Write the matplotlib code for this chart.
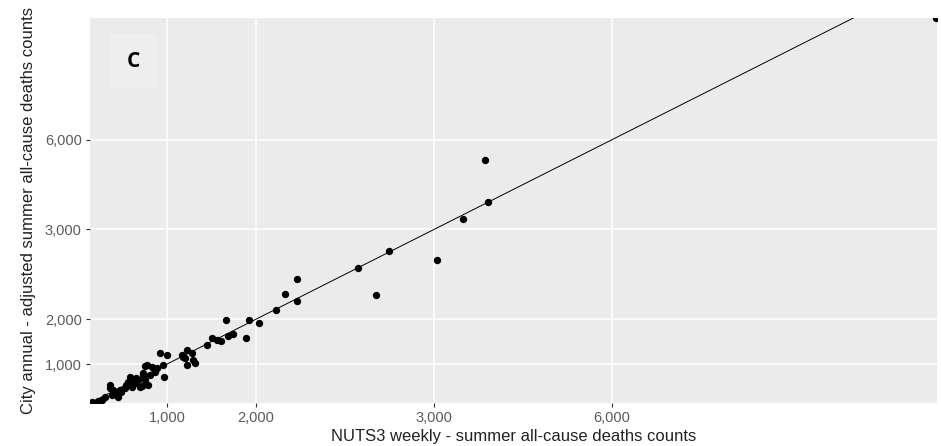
import numpy as np
import matplotlib
matplotlib.use('Agg')
import matplotlib.pyplot as plt

# NUTS3 weekly counts (x) against city annual adjusted counts (y)
nuts3_weekly = [157, 225, 270, 303, 360, 360, 382, 438, 449, 472, 528, 562, 584, 607, 640,
                674, 697, 730, 719, 787, 753, 730, 775, 809, 831, 865, 888, 921, 955, 966,
                1000, 1169, 1202, 1225, 1225, 1281, 1292, 1315, 1180, 1449, 1506, 1562, 1607,
                1685, 1742, 1663, 1921, 2017, 1888, 2112, 2163, 2230, 2230, 2573, 2674, 2747,
                3051, 3489, 3860, 3910, 11460, 753, 483, 539, 618, 652, 393]
city_annual = [152, 174, 196, 263, 531, 464, 308, 353, 263, 420, 464, 598, 710, 487, 576,
               643, 487, 754, 509, 531, 643, 799, 978, 754, 933, 821, 911, 1246, 978, 710,
               1201, 1201, 1134, 1313, 978, 1246, 1089, 1022, 1156, 1424, 1580, 1536, 1513,
               1625, 1670, 1982, 1982, 1915, 1580, 2102, 2281, 2203, 2448, 2571, 2270, 2761,
               2660, 3356, 5331, 3924, 10050, 955, 375, 531, 643, 688, 420]

tick_values = [1000, 2000, 3000, 6000]
tick_labels = ['1,000', '2,000', '3,000', '6,000']

# axis breaks in the original are not evenly spaced -> piecewise scale
knots_v = [0, 1000, 2000, 3000, 6000, 15000]
knots_u = [0, 1, 2, 4, 6, 12]


def forward(v):
    return np.interp(v, knots_v, knots_u)


def inverse(u):
    return np.interp(u, knots_u, knots_v)


plt.rcParams['font.family'] = ['Liberation Sans', 'DejaVu Sans']

fig = plt.figure(figsize=(9.41, 4.46), dpi=100)
ax = fig.add_axes([90 / 941, 43 / 446, 847 / 941, 385 / 446])
ax.set_facecolor('#EBEBEB')

ax.set_xscale('function', functions=(forward, inverse))
ax.set_yscale('function', functions=(forward, inverse))
ax.set_xlim(135, 11475)
ax.set_ylim(133, 10065)

ax.set_xticks(tick_values)
ax.set_xticklabels(tick_labels)
ax.set_yticks(tick_values)
ax.set_yticklabels(tick_labels)
ax.minorticks_off()
ax.grid(True, color='white', linewidth=1.1)
ax.set_axisbelow(True)
for s in ax.spines.values():
    s.set_visible(False)
ax.tick_params(length=3, width=0.8, color='#333333', labelcolor='#5A5A5A',
               labelsize=10.5, pad=3)

# identity line
line_v = [135, 1000, 2000, 3000, 6000, 11475]
ax.plot(line_v, line_v, color='black', linewidth=0.7, zorder=2)

ax.scatter(nuts3_weekly, city_annual, s=28, color='black', zorder=3, linewidths=0)

ax.set_xlabel('NUTS3 weekly - summer all-cause deaths counts', fontsize=12, labelpad=3,
              color='#222222')
ax.set_ylabel('City annual - adjusted summer all-cause deaths counts', fontsize=12,
              color='#222222')
ax.yaxis.set_label_coords(-0.064, 0.5)

# panel tag
ax.text(0.051, 0.888, 'C', transform=ax.transAxes, fontsize=15, fontweight='bold',
        family=['Open Sans', 'DejaVu Sans'], ha='center', va='center',
        bbox=dict(facecolor='#EEEEEE', edgecolor='none', pad=12))

fig.savefig('out.png', dpi=100)
